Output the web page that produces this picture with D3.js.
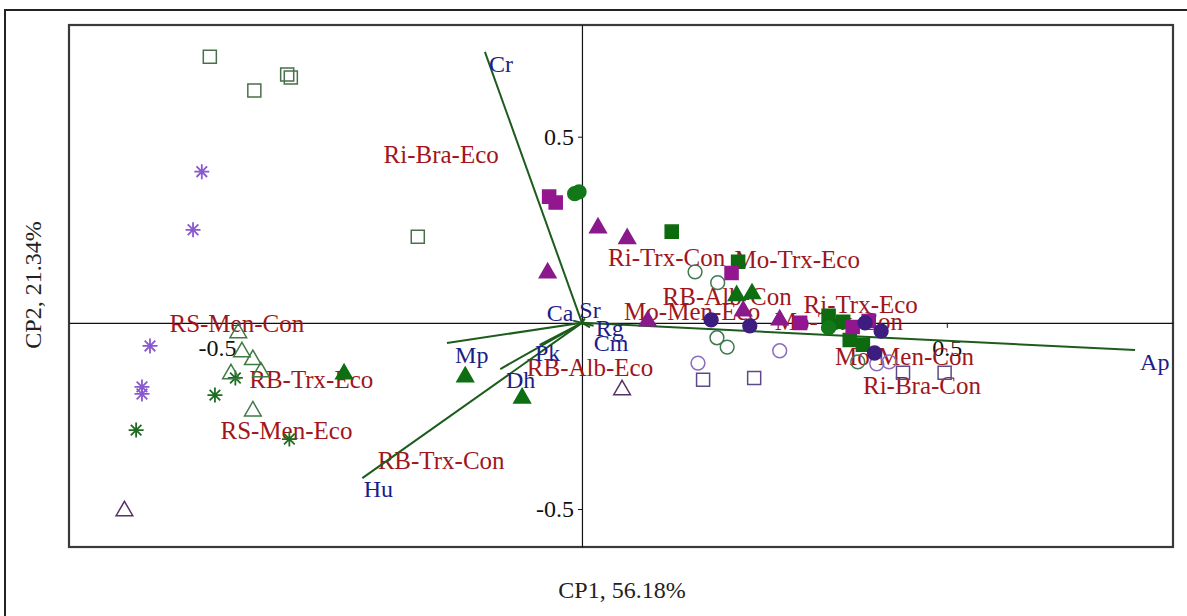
<!DOCTYPE html>
<html>
<head>
<meta charset="utf-8">
<script src="https://cdn.jsdelivr.net/npm/d3@7/dist/d3.min.js"></script>
<style>
  html, body { margin: 0; padding: 0; background: #fff; }
  svg { display: block; }
</style>
</head>
<body>
<svg id="chart" width="1187" height="616"></svg>
<script>
// PCA biplot: CP1 vs CP2 scores per sample group and loading vectors

const axisTicks = [-0.5, 0.5];
const xTitle = "CP1, 56.18%";
const yTitle = "CP2, 21.34%";

// Loading vectors (endpoint coordinates) and where their names sit
const vectorNames  = ["Cr", "Ap", "Hu", "Mp", "Dh", "Pk", "Ca", "Sr", "Rg", "Cm"];
const vectorEnds   = [[-0.133, 0.728], [0.758, -0.073], [-0.301, -0.417], [-0.185, -0.054],
                      [-0.112, -0.124], [-0.058, -0.059], [-0.012, 0.006], [0.004, 0.012],
                      [0.016, -0.008], [0.011, -0.012]];
const vectorLabelAt = [[-0.111, 0.694], [0.785, -0.105], [-0.279, -0.446], [-0.151, -0.086],
                       [-0.084, -0.153], [-0.047, -0.081], [-0.030, 0.027], [0.011, 0.035],
                       [0.038, -0.013], [0.040, -0.054]];

// Group names and their positions in score space
const groupNames = ["Ri-Bra-Eco", "RS-Men-Con", "RB-Trx-Eco", "RS-Men-Eco", "RB-Trx-Con",
                    "RB-Alb-Eco", "Ri-Trx-Con", "Mo-Trx-Eco", "RB-Alb-Con", "Mo-Men-Eco",
                    "Ri-Trx-Eco", "Mo-Trx-Con", "Mo-Men-Con", "Ri-Bra-Con"];
const groupLabelAt = [[-0.193, 0.452], [-0.473, -0.003], [-0.371, -0.151], [-0.405, -0.288],
                      [-0.193, -0.371], [0.011, -0.121], [0.116, 0.175], [0.295, 0.169],
                      [0.199, 0.070], [0.151, 0.030], [0.382, 0.048], [0.352, 0.003],
                      [0.442, -0.091], [0.466, -0.169]];

// Sample scores, one list per marker series
const openGreenSquares = [[-0.510, 0.715], [-0.449, 0.624], [-0.404, 0.667], [-0.399, 0.659], [-0.225, 0.231]];
const purpleAsterisks  = [[-0.521, 0.406], [-0.533, 0.250], [-0.592, -0.062], [-0.603, -0.172], [-0.603, -0.191]];
const greenAsterisks   = [[-0.611, -0.288], [-0.503, -0.194], [-0.475, -0.148], [-0.401, -0.312]];
const openGreenTriangles = [[-0.471, -0.027], [-0.466, -0.078], [-0.451, -0.099], [-0.481, -0.137],
                            [-0.440, -0.132], [-0.451, -0.237]];
const greenTriangles   = [[-0.326, -0.137], [-0.160, -0.145], [-0.082, -0.202], [0.212, 0.073], [0.233, 0.078]];
const openPurpleTriangles = [[-0.627, -0.505], [0.055, -0.180]];
const purpleTriangles  = [[-0.047, 0.134], [0.022, 0.255], [0.062, 0.226], [0.090, 0.005], [0.221, 0.032], [0.271, 0.008]];
const purpleSquares    = [[-0.045, 0.339], [-0.036, 0.323], [0.205, 0.134], [0.299, 0.000], [0.371, -0.011], [0.393, 0.005]];
const greenSquares     = [[0.123, 0.245], [0.214, 0.164], [0.338, 0.019], [0.358, 0.003], [0.367, -0.046], [0.385, -0.059]];
const greenCircles     = [[-0.010, 0.347], [-0.004, 0.352], [0.338, -0.013]];
const navyCircles      = [[0.177, 0.008], [0.230, -0.008], [0.388, 0.000], [0.410, -0.022], [0.401, -0.081]];
const openGreenCircles = [[0.155, 0.137], [0.186, 0.108], [0.185, -0.040], [0.199, -0.065], [0.378, -0.105]];
const openPurpleCircles = [[0.159, -0.108], [0.271, -0.075], [0.404, -0.110], [0.421, -0.105]];
const openPurpleSquares = [[0.166, -0.153], [0.236, -0.148], [0.440, -0.134], [0.497, -0.134]];

const svg = d3.select("#chart");
const W = 1187, H = 616;
const plot = { left: 69, top: 25, right: 1173, bottom: 547 };

const x = d3.scaleLinear().domain([-0.703, 0.81]).range([plot.left, plot.right]);
const y = d3.scaleLinear().domain([0.80, -0.602]).range([plot.top, plot.bottom]);

const serif = "'Liberation Serif', 'Times New Roman', serif";
const labelRed = "#a0161c";
const labelBlue = "#1c1c8a";
const vectorGreen = "#1d5c1d";

// outer frame
svg.append("rect")
  .attr("x", 5).attr("y", 10).attr("width", W + 20).attr("height", H + 20)
  .attr("fill", "none").attr("stroke", "#222").attr("stroke-width", 2);

// plot frame
svg.append("rect")
  .attr("x", plot.left).attr("y", plot.top)
  .attr("width", plot.right - plot.left).attr("height", plot.bottom - plot.top)
  .attr("fill", "#fff").attr("stroke", "#3a3a3a").attr("stroke-width", 2.2);

const fmt = v => d3.format(".1f")(v).replace("\u2212", "-");

// zero lines with ticks
const xAxis = svg.append("g")
  .attr("transform", `translate(0,${y(0)})`)
  .call(d3.axisBottom(x).tickValues(axisTicks).tickSize(5).tickSizeOuter(0).tickPadding(11).tickFormat(fmt));
const yAxis = svg.append("g")
  .attr("transform", `translate(${x(0)},0)`)
  .call(d3.axisLeft(y).tickValues(axisTicks).tickSize(4).tickSizeOuter(0).tickPadding(4).tickFormat(fmt));
[xAxis, yAxis].forEach(g => {
  g.select(".domain").attr("stroke", "#111").attr("stroke-width", 1.2);
  g.selectAll(".tick line").attr("stroke", "#111");
  g.selectAll("text").attr("font-family", serif).attr("font-size", 24).attr("fill", "#111");
});

// group labels (under the markers)
svg.append("g").selectAll("text")
  .data(groupNames)
  .join("text")
  .attr("x", (d, i) => x(groupLabelAt[i][0]))
  .attr("y", (d, i) => y(groupLabelAt[i][1]))
  .attr("text-anchor", "middle")
  .attr("dominant-baseline", "central")
  .attr("font-family", serif).attr("font-size", 25)
  .attr("fill", labelRed)
  .text(d => d);

// loading vectors
svg.append("g").selectAll("line")
  .data(vectorEnds)
  .join("line")
  .attr("x1", x(0)).attr("y1", y(0))
  .attr("x2", d => x(d[0])).attr("y2", d => y(d[1]))
  .attr("stroke", vectorGreen).attr("stroke-width", 2);

// marker shapes
const asteriskPath = r => {
  const a = r * Math.SQRT1_2;
  return `M0,${-r}L0,${r}M${-r},0L${r},0M${-a},${-a}L${a},${a}M${-a},${a}L${a},${-a}`;
};
const shapes = {
  square: d3.symbol(d3.symbolSquare, 170)(),
  triangle: d3.symbol(d3.symbolTriangle, 120)(),
  circle: d3.symbol(d3.symbolCircle, 150)(),
  asterisk: asteriskPath(7.5)
};

const series = [
  { data: openGreenSquares,    shape: "square",   fill: "none",    stroke: "#4b6e4b" },
  { data: purpleAsterisks,     shape: "asterisk", fill: "none",    stroke: "#8a58cf" },
  { data: greenAsterisks,      shape: "asterisk", fill: "none",    stroke: "#1f6b22" },
  { data: openGreenTriangles,  shape: "triangle", fill: "none",    stroke: "#3f7a45" },
  { data: openPurpleTriangles, shape: "triangle", fill: "none",    stroke: "#563068" },
  { data: openPurpleSquares,   shape: "square",   fill: "none",    stroke: "#5e4a8a" },
  { data: openPurpleCircles,   shape: "circle",   fill: "none",    stroke: "#8b6cbd" },
  { data: openGreenCircles,    shape: "circle",   fill: "none",    stroke: "#3f7a50" },
  { data: greenTriangles,      shape: "triangle", fill: "#0e6e12", stroke: "#0e6e12" },
  { data: purpleTriangles,     shape: "triangle", fill: "#8a1a8c", stroke: "#8a1a8c" },
  { data: greenSquares,        shape: "square",   fill: "#0d6a0f", stroke: "#0d6a0f" },
  { data: purpleSquares,       shape: "square",   fill: "#94168f", stroke: "#94168f" },
  { data: greenCircles,        shape: "circle",   fill: "#12781a", stroke: "#12781a" },
  { data: navyCircles,         shape: "circle",   fill: "#3d1d80", stroke: "#3d1d80" }
];

series.forEach(s => {
  svg.append("g").selectAll("path")
    .data(s.data)
    .join("path")
    .attr("transform", d => `translate(${x(d[0])},${y(d[1])})`)
    .attr("d", shapes[s.shape])
    .attr("fill", s.fill)
    .attr("stroke", s.stroke)
    .attr("stroke-width", s.shape === "asterisk" ? 1.8 : 1.5);
});

// vector names
svg.append("g").selectAll("text")
  .data(vectorNames)
  .join("text")
  .attr("x", (d, i) => x(vectorLabelAt[i][0]))
  .attr("y", (d, i) => y(vectorLabelAt[i][1]))
  .attr("text-anchor", "middle")
  .attr("dominant-baseline", "central")
  .attr("font-family", serif).attr("font-size", 24)
  .attr("fill", labelBlue)
  .text(d => d);

// axis titles
svg.append("text")
  .attr("x", 622).attr("y", 590)
  .attr("text-anchor", "middle").attr("dominant-baseline", "central")
  .attr("font-family", serif).attr("font-size", 24).attr("fill", "#222")
  .text(xTitle);
svg.append("text")
  .attr("transform", `translate(33,285) rotate(-90)`)
  .attr("text-anchor", "middle").attr("dominant-baseline", "central")
  .attr("font-family", serif).attr("font-size", 24).attr("fill", "#222")
  .text(yTitle);
</script>
</body>
</html>
